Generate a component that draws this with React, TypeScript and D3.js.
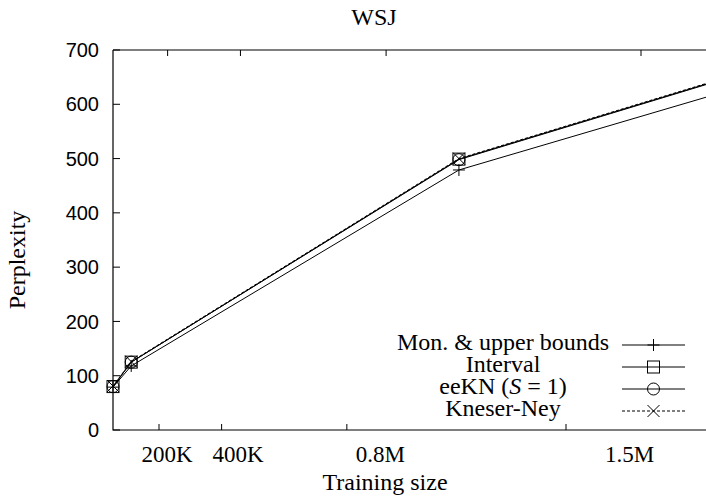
import React from "react";
import * as d3 from "d3";

const trainingSizesK = [50, 100, 1000, 1800];
const monUpper = [79, 118, 479, 637];
const interval = [80, 125, 499, 662];
const eeKN = [80, 125, 498, 661];
const kneserNey = [81, 126, 500, 663];

const xTickValues = [200, 400, 800, 1500];
const xTickLabels = ["200K", "400K", "0.8M", "1.5M"];
const yTickValues = [0, 100, 200, 300, 400, 500, 600, 700];

const W = 706;
const H = 500;
const left = 113;
const top = 50;
const bottom = 430;

const serif = "Liberation Serif";
const sans = "Liberation Sans";

type Marker = "plus" | "box" | "circle" | "cross";

const series: { name: string; values: number[]; marker: Marker; dash?: string }[] = [
  { name: "Mon. & upper bounds", values: monUpper, marker: "plus" },
  { name: "Interval", values: interval, marker: "box" },
  { name: "eeKN", values: eeKN, marker: "circle" },
  { name: "Kneser-Ney", values: kneserNey, marker: "cross", dash: "3,2" },
];

function MarkerShape({ type, x, y }: { type: Marker; x: number; y: number }) {
  const s = 6;
  const common = { stroke: "#000", strokeWidth: 1, fill: "none" };
  if (type === "plus")
    return <path d={`M${x - s},${y}H${x + s}M${x},${y - s}V${y + s}`} {...common} />;
  if (type === "box") return <rect x={x - s} y={y - s} width={2 * s} height={2 * s} {...common} />;
  if (type === "circle") return <circle cx={x} cy={y} r={s} {...common} />;
  return <path d={`M${x - s},${y - s}L${x + s},${y + s}M${x - s},${y + s}L${x + s},${y - s}`} {...common} />;
}

export default function App() {
  const x = d3.scaleLinear().domain([50, 1500]).range([113, 641]);
  const xBottomTick = d3.scaleLinear().domain([200, 1500]).range([159, 566]);
  const xLabel = d3.scaleLinear().domain([200, 1500]).range([167, 629.5]);
  const y = d3.scaleLinear().domain([0, 700]).range([bottom, top]);

  const line = d3
    .line<number>()
    .x((_, i) => x(trainingSizesK[i]))
    .y((d) => y(d));

  const legendY = [345, 367, 389, 411];
  const legendTextX = 503;
  const sampleX1 = 622;
  const sampleX2 = 685;

  const serifStyle = { fontFamily: serif };
  const sansStyle = { fontFamily: sans };

  return (
    <svg
      width={W}
      height={H}
      style={{ position: "absolute", left: 0, top: 0, background: "#fff" }}
    >
      <defs>
        <clipPath id="plotClip">
          <rect x={left} y={top} width={W - left + 200} height={bottom - top} />
        </clipPath>
      </defs>
      <rect x={0} y={0} width={W} height={H} fill="#fff" />

      <text x={374} y={25} style={serifStyle} fontSize={24} textAnchor="middle">
        WSJ
      </text>

      <path d={`M${left},${top}H${W + 10}M${left},${top}V${bottom}H${W + 10}`} stroke="#000" strokeWidth={1.2} fill="none" />

      {yTickValues.map((v) => (
        <g key={v}>
          <line x1={left} x2={left + 7} y1={y(v)} y2={y(v)} stroke="#000" strokeWidth={1} />
          <text x={99} y={y(v)} dy="0.36em" style={sansStyle} fontSize={20} textAnchor="end">
            {v}
          </text>
        </g>
      ))}

      {xTickValues.map((v, i) => (
        <g key={v}>
          <line x1={x(v)} x2={x(v)} y1={top} y2={top + 6} stroke="#000" strokeWidth={1} />
          <line x1={xBottomTick(v)} x2={xBottomTick(v)} y1={bottom} y2={bottom - 6} stroke="#000" strokeWidth={1} />
          <text x={xLabel(v)} y={462} style={serifStyle} fontSize={23} textAnchor="middle">
            {xTickLabels[i]}
          </text>
        </g>
      ))}

      <text x={385} y={490} style={serifStyle} fontSize={24} textAnchor="middle">
        Training size
      </text>
      <text
        transform="translate(25,260) rotate(-90)"
        style={serifStyle}
        fontSize={24}
        textAnchor="middle"
      >
        Perplexity
      </text>

      <g clipPath="url(#plotClip)">
        {series.map((s) => (
          <path
            key={s.name}
            d={line(s.values) || ""}
            stroke="#000"
            strokeWidth={1}
            fill="none"
            strokeDasharray={s.dash}
          />
        ))}
      </g>

      {series.map((s) =>
        s.values.map((v, i) => (
          <MarkerShape key={s.name + i} type={s.marker} x={x(trainingSizesK[i])} y={y(v)} />
        ))
      )}

      {series.map((s, i) => (
        <g key={"leg" + s.name}>
          <text x={legendTextX} y={legendY[i] + 5} style={serifStyle} fontSize={24} textAnchor="middle">
            {s.name === "eeKN" ? (
              <>
                eeKN (<tspan fontStyle="italic">S</tspan> = 1)
              </>
            ) : (
              s.name
            )}
          </text>
          <line
            x1={sampleX1}
            x2={sampleX2}
            y1={legendY[i]}
            y2={legendY[i]}
            stroke="#000"
            strokeWidth={1}
            strokeDasharray={s.dash}
          />
          <MarkerShape type={s.marker} x={(sampleX1 + sampleX2) / 2} y={legendY[i]} />
        </g>
      ))}
    </svg>
  );
}
